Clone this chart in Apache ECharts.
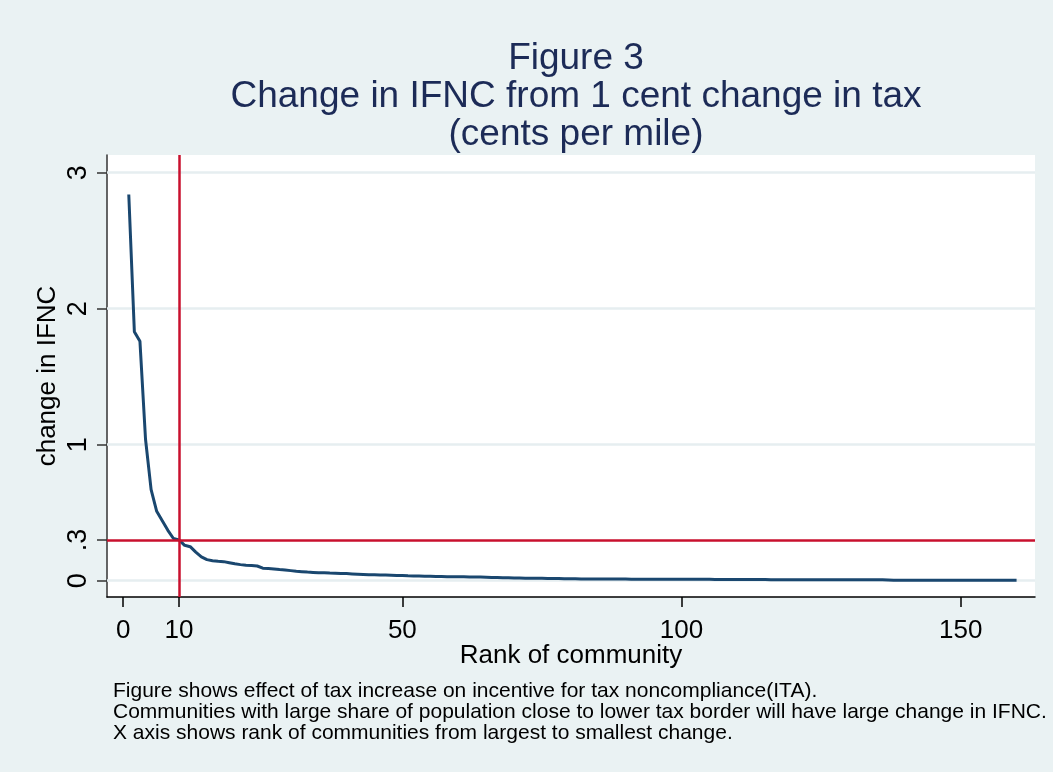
<!DOCTYPE html>
<html>
<head>
<meta charset="utf-8">
<script src="https://cdn.jsdelivr.net/npm/echarts@6/dist/echarts.min.js"></script>
<style>
html,body{margin:0;padding:0;background:#EAF2F3;}
#chart{width:1053px;height:772px;}
</style>
</head>
<body>
<div id="chart"></div>
<script>
// ---- data ----
var titleLines = ["Figure 3", "Change in IFNC from 1 cent change in tax", "(cents per mile)"];
var xTitle = "Rank of community";
var yTitle = "change in IFNC";
var xTicks = [0, 10, 50, 100, 150];
var yTicks = [0, 0.3, 1, 2, 3];
var yTickLabels = ["0", ".3", "1", "2", "3"];
var gridValues = [0, 1, 2, 3];
var refX = 10;
var refY = 0.3;
var notes = [
  "Figure shows effect of tax increase on incentive for tax noncompliance(ITA).",
  "Communities with large share of population close to lower tax border will have large change in IFNC.",
  "X axis shows rank of communities from largest to smallest change."
];
// change in IFNC by community rank (rank 1..160)
var ifnc = [
  2.84, 1.83, 1.76, 1.04, 0.67, 0.51, 0.44, 0.37, 0.31, 0.30,
  0.26, 0.25, 0.21, 0.175, 0.155, 0.147, 0.143, 0.140, 0.132, 0.124,
  0.118, 0.114, 0.111, 0.108, 0.092, 0.089, 0.086, 0.082, 0.079, 0.074,
  0.069, 0.066, 0.063, 0.061, 0.059, 0.058, 0.056, 0.055, 0.053, 0.052,
  0.050, 0.048, 0.046, 0.044, 0.043, 0.042, 0.041, 0.040, 0.039, 0.038,
  0.036, 0.035, 0.034, 0.033, 0.032, 0.031, 0.030, 0.029, 0.029, 0.028,
  0.028, 0.027, 0.027, 0.027, 0.026, 0.024, 0.023, 0.022, 0.021, 0.020,
  0.019, 0.018, 0.017, 0.017, 0.017, 0.016, 0.016, 0.016, 0.015, 0.015,
  0.015, 0.013, 0.013, 0.013, 0.013, 0.012, 0.012, 0.012, 0.012, 0.012,
  0.011, 0.011, 0.011, 0.011, 0.011, 0.011, 0.011, 0.010, 0.010, 0.010,
  0.010, 0.010, 0.010, 0.010, 0.010, 0.009, 0.008, 0.008, 0.008, 0.008,
  0.008, 0.008, 0.008, 0.008, 0.008, 0.007, 0.007, 0.007, 0.007, 0.007,
  0.007, 0.007, 0.007, 0.007, 0.007, 0.006, 0.006, 0.006, 0.006, 0.006,
  0.006, 0.006, 0.006, 0.006, 0.006, 0.006, 0.005, 0.004, 0.004, 0.004,
  0.004, 0.004, 0.004, 0.004, 0.004, 0.004, 0.004, 0.004, 0.004, 0.004,
  0.003, 0.003, 0.003, 0.003, 0.003, 0.003, 0.003, 0.003, 0.003, 0.003
];

// ---- chart ----
var FONT = "'Liberation Sans', Arial, sans-serif";
var seriesData = ifnc.map(function (v, i) { return [i + 1, v]; });
var chart = echarts.init(document.getElementById('chart'), null, {renderer: 'canvas'});
var gridLeft = 107, gridRight = 18, gridTop = 155, gridBottom = 175;
var plotCenterX = gridLeft + (1053 - gridLeft - gridRight) / 2;

chart.setOption({
  backgroundColor: '#EAF2F3',
  animation: false,
  textStyle: {fontFamily: FONT},
  title: {
    text: titleLines.join('\n'),
    left: plotCenterX, top: 35,
    textAlign: 'center',
    textStyle: {fontFamily: FONT, fontSize: 37, fontWeight: 'normal', color: '#1c2b57', lineHeight: 38}
  },
  grid: {left: gridLeft, right: gridRight, top: gridTop, bottom: gridBottom, show: true, backgroundColor: '#ffffff', borderWidth: 0},
  xAxis: {
    type: 'value', min: -2.9, max: 163.3,
    name: xTitle, nameLocation: 'middle', nameGap: 46, nameMoveOverlap: false,
    nameTextStyle: {fontFamily: FONT, fontSize: 26, color: '#000'},
    axisLine: {show: true, onZero: false, lineStyle: {color: '#000', width: 1.5}},
    axisTick: {show: true, length: 10, customValues: xTicks, lineStyle: {color: '#000', width: 1.5}},
    axisLabel: {customValues: xTicks, fontFamily: FONT, fontSize: 26, color: '#000', margin: 21, hideOverlap: false},
    splitLine: {show: false}
  },
  yAxis: {
    type: 'value', min: -0.12, max: 3.13,
    name: yTitle, nameLocation: 'middle', nameGap: 46, nameRotate: 90, nameMoveOverlap: false,
    nameTextStyle: {fontFamily: FONT, fontSize: 26, color: '#000'},
    axisLine: {show: true, onZero: false, lineStyle: {color: '#333', width: 1.5}},
    axisTick: {show: true, length: 10, customValues: yTicks, lineStyle: {color: '#333', width: 1.5}},
    axisLabel: {
      customValues: yTicks, rotate: 90, fontFamily: FONT, fontSize: 27, color: '#000', margin: 15, hideOverlap: false,
      formatter: function (v) {
        for (var i = 0; i < yTicks.length; i++) { if (Math.abs(yTicks[i] - v) < 1e-9) return yTickLabels[i]; }
        return '';
      }
    },
    splitLine: {show: false}
  },
  series: [
    {
      type: 'line',
      data: seriesData,
      showSymbol: false,
      symbol: 'none',
      lineStyle: {color: '#1a476f', width: 3},
      z: 3,
      markLine: {
        silent: true, symbol: 'none', label: {show: false},
        lineStyle: {color: '#E6EEF0', width: 2.5, type: 'solid'},
        data: gridValues.map(function (g) { return {yAxis: g}; }),
        z: 1
      }
    },
    {
      type: 'line',
      data: [],
      z: 4,
      markLine: {
        silent: true, symbol: 'none', label: {show: false},
        lineStyle: {color: '#c8102e', width: 2.5, type: 'solid'},
        data: [{xAxis: refX}, {yAxis: refY}]
      }
    }
  ],
  graphic: notes.map(function (t, i) {
    return {
      type: 'text', left: 113, top: 681 + i * 20.8,
      style: {text: t, font: '21px ' + FONT, fill: '#000'}
    };
  })
});
</script>
</body>
</html>
